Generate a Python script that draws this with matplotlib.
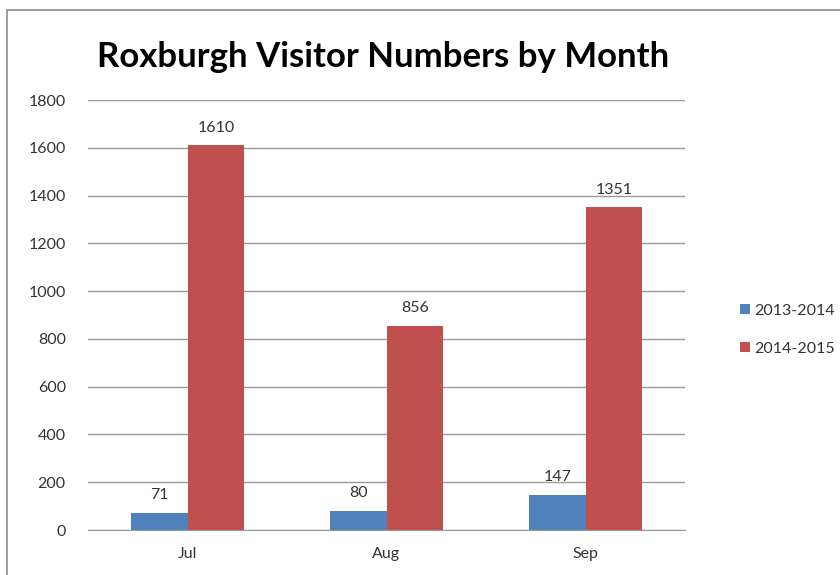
import numpy as np
import matplotlib.pyplot as plt
from matplotlib.patches import Rectangle

# data
months = ["Jul", "Aug", "Sep"]
visits_1314 = [71, 80, 147]
visits_1415 = [1610, 856, 1351]
series_names = ["2013-2014", "2014-2015"]
yticks = [0, 200, 400, 600, 800, 1000, 1200, 1400, 1600, 1800]

plt.rcParams['font.family'] = ['Lato', 'DejaVu Sans']

fig = plt.figure(figsize=(8.4, 5.75), dpi=100)
ax = fig.add_axes([88 / 840, 1 - 530 / 575, 597 / 840, 430 / 575])

x = np.arange(len(months))
w = 0.285
b1 = ax.bar(x - w / 2, visits_1314, w, color="#4F81BD", label=series_names[0])
b2 = ax.bar(x + w / 2, visits_1415, w, color="#C0504D", label=series_names[1])

for bars, vals in ((b1, visits_1314), (b2, visits_1415)):
    for r, v in zip(bars, vals):
        ax.text(r.get_x() + r.get_width() / 2, v + 45, str(v),
                ha="center", va="bottom", fontsize=11.5, color="#333333")

ax.set_xlim(-0.5, 2.5)
ax.set_ylim(0, 1800)
ax.set_yticks(yticks)
ax.set_xticks(x)
ax.set_xticklabels(months)
ax.yaxis.grid(True, color="#9a9a9a", linewidth=1)
ax.set_axisbelow(True)
for s in ("top", "right", "left"):
    ax.spines[s].set_visible(False)
ax.spines["bottom"].set_color("#9a9a9a")
ax.tick_params(axis="both", length=0, labelsize=11.5, labelcolor="#333333")
ax.tick_params(axis="y", pad=16)
ax.tick_params(axis="x", pad=12)

fig.text(383 / 840, 1 - 57 / 575, "Roxburgh Visitor Numbers by Month",
         ha="center", va="center", fontsize=25, fontweight="bold", color="black")

leg = fig.legend(handles=[b1, b2], loc="center left",
                 bbox_to_anchor=(726 / 840, 1 - 330 / 575), frameon=False,
                 fontsize=11.5, handlelength=0.6, handleheight=0.6,
                 handletextpad=0.25, labelspacing=1.5)
for t in leg.get_texts():
    t.set_color("#333333")

# outer chart border
fig.patches.append(Rectangle((7 / 840, -0.01), 1.0, 1 - 10 / 575 + 0.01,
                             transform=fig.transFigure, fill=False,
                             edgecolor="#8c8c8c", linewidth=1.2))

fig.savefig("out.png", dpi=100)
